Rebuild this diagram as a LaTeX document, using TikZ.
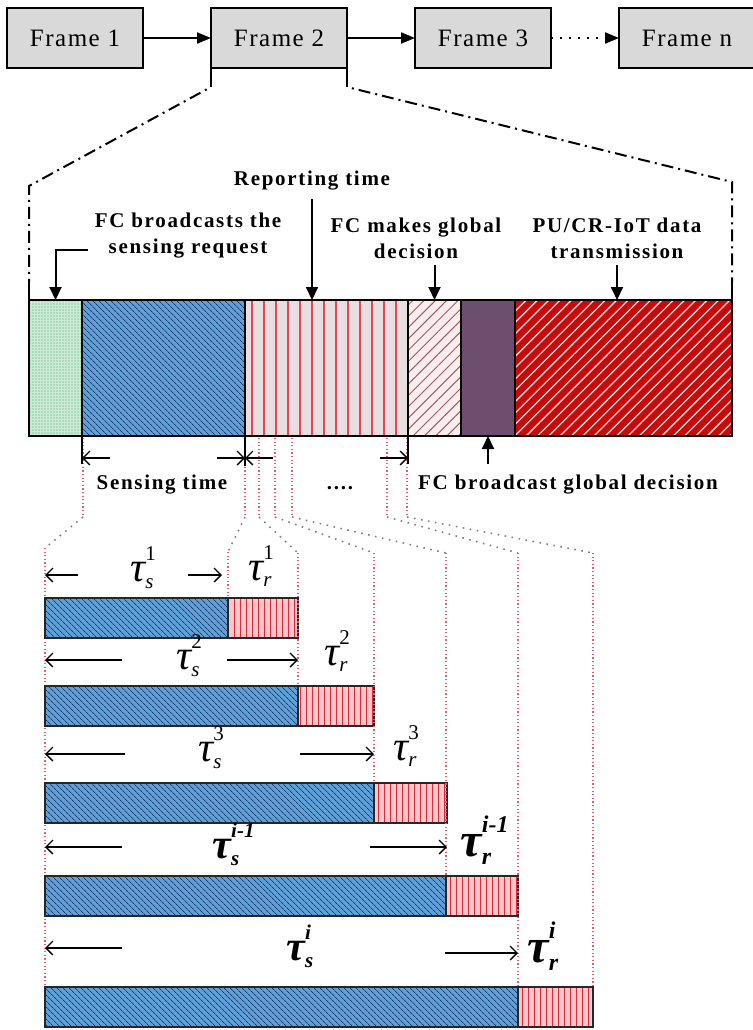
\documentclass[tikz,border=0pt]{standalone}
\usepackage{fontspec}
\setmainfont{Liberation Serif}
\usetikzlibrary{arrows.meta,patterns.meta}
\definecolor{framefill}{RGB}{217,217,217}
\definecolor{greenfill}{RGB}{205,235,215}
\definecolor{greendot}{RGB}{60,165,110}
\definecolor{bluefill}{RGB}{95,160,215}
\definecolor{bluehatch}{RGB}{25,55,105}
\definecolor{repfill}{RGB}{232,222,224}
\definecolor{repline}{RGB}{228,70,90}
\definecolor{gdecfill}{RGB}{252,238,238}
\definecolor{gdecline}{RGB}{165,90,90}
\definecolor{purp}{RGB}{110,78,110}
\definecolor{datafill}{RGB}{200,10,10}
\definecolor{pinkfill}{RGB}{250,200,200}
\definecolor{pinkline}{RGB}{220,40,60}
\definecolor{dotred}{RGB}{230,90,110}
\newcommand{\lblfont}{\fontsize{21}{26}\selectfont\bfseries\addfontfeatures{LetterSpace=8}}
\newcommand{\frmfont}{\fontsize{25}{30}\selectfont\addfontfeatures{LetterSpace=6}}
\newcommand{\taufont}{\fontsize{42}{48}\selectfont\itshape}
\newcommand{\btaufont}{\fontsize{48}{54}\selectfont\bfseries\itshape}
\newcommand{\ttau}[2]{τ\rlap{\raisebox{0.5em}{\scalebox{0.5}{#2}}}\raisebox{-0.16em}{\scalebox{0.5}{#1}}}
\begin{document}
\begin{tikzpicture}[x=1pt,y=-1pt,
  frm/.style={draw, line width=2.2pt, fill=framefill, minimum width=136pt, minimum height=60pt, inner sep=0pt, outer sep=0pt, font=\frmfont, anchor=north west},
  seg/.style={draw=black, line width=1.8pt, minimum height=136pt, inner sep=0pt, outer sep=0pt, anchor=north west},
  greenseg/.style={preaction={fill=greenfill}, pattern={Dots[distance=3pt,radius=0.6pt]}, pattern color=greendot},
  blueseg/.style={preaction={fill=bluefill}, pattern={Lines[angle=-45,distance=4pt,line width=0.8pt]}, pattern color=bluehatch},
  repseg/.style={preaction={fill=repfill}, pattern={Lines[angle=90,distance=12pt,line width=1.5pt]}, pattern color=repline},
  gdecseg/.style={preaction={fill=gdecfill}, pattern={Lines[angle=45,distance=8pt,line width=1pt]}, pattern color=gdecline},
  dataseg/.style={preaction={fill=datafill}, pattern={Lines[angle=45,distance=8pt,line width=1.3pt]}, pattern color=white!85!red},
  bb/.style={draw=black!85, line width=1.6pt, minimum height=40pt, inner sep=0pt, outer sep=0pt, anchor=north west, preaction={fill=bluefill}, pattern={Lines[angle=-45,distance=4pt,line width=0.7pt]}, pattern color=bluehatch},
  br/.style={draw=black!85, line width=1.6pt, minimum height=40pt, inner sep=0pt, outer sep=0pt, anchor=north west, preaction={fill=pinkfill}, pattern={Lines[angle=90,distance=6pt,line width=1pt]}, pattern color=pinkline},
  lbl/.style={font=\lblfont, align=center, inner sep=0pt},
  farr/.style={line width=2pt, -{Triangle[length=14pt,width=11pt]}},
  varr/.style={line width=2pt, -{Triangle[length=13pt,width=12pt]}},
  ddash/.style={line width=2pt, dash pattern=on 12pt off 5pt on 2pt off 5pt, dash phase=12pt},
  dim/.style={line width=1.3pt, -{Straight Barb[length=7pt,width=14pt]}},
  tickln/.style={line width=1.8pt},
  vdot/.style={dotred, line width=1.2pt, dash pattern=on 1.2pt off 2.4pt},
  gdot/.style={gray, line width=1.6pt, dash pattern=on 1.6pt off 5.5pt},
  tau/.style={font=\taufont, inner sep=0pt},
  btau/.style={font=\btaufont, inner sep=0pt}
]
\useasboundingbox (0,0) rectangle (752,1030);

% ---------- frames ----------
\node[frm] (f1) at (7,8) {Frame 1};
\node[frm] (f2) at (211,8) {Frame 2};
\node[frm] (f3) at (415,8) {Frame 3};
\node[frm] (fn) at (619,8) {Frame n};
\draw[farr] (f1.east) -- (f2.west);
\draw[farr] (f2.east) -- (f3.west);
\draw[line width=2pt, dash pattern=on 2pt off 7pt, -{Triangle[length=14pt,width=11pt]}] (f3.east) -- (fn.west);

% ---------- middle bar ----------
\node[seg, minimum width=53pt, greenseg] (sreq) at (29,300) {};
\node[seg, minimum width=163pt, blueseg] (sens) at (82,300) {};
\node[seg, minimum width=163pt, repseg] (rep) at (245,300) {};
\node[seg, minimum width=53pt, gdecseg] (gdec) at (408,300) {};
\node[seg, minimum width=54pt, fill=purp] (bdec) at (461,300) {};
\node[seg, minimum width=217pt, dataseg] (data) at (515,300) {};

% zoom lines from Frame 2
\draw[line width=2pt] (f2.south west) -- ++(0,19) coordinate (f2l);
\draw[line width=2pt] (f2.south east) -- ++(0,19) coordinate (f2r);
\coordinate (cl) at (29,186);
\coordinate (cl2) at (29,282);
\coordinate (cr) at (732,182);
\coordinate (cr2) at (732,282);
\draw[ddash] (f2l) -- (cl) -- (cl2);
\draw[line width=2pt] (cl2) -- (sreq.north west);
\draw[ddash] (f2r) -- (cr) -- (cr2);
\draw[line width=2pt] (cr2) -- (data.north east);

% ---------- labels above ----------
\node[lbl] (lrep) at (312,181) {Reporting time};
\node[lbl] (lreq) at (188,236) {FC broadcasts the\\sensing request};
\node[lbl] (lgdec) at (416,238) {FC makes global\\decision};
\node[lbl] (ldata) at (617,238) {PU/CR-IoT data\\transmission};
\draw[varr] (lrep.south) ++(0,8) -- (lrep.south |- rep.north);
\coordinate (reqk) at (88,250);
\draw[varr] (reqk) -| (sreq.north);
\draw[varr] (gdec.north |- lgdec.south) ++(0,6) -- (gdec.north);
\draw[varr] (ldata.south) ++(0,6) -- (ldata.south |- data.north);

% ---------- below middle bar ----------
\node[lbl, anchor=base] (lsens) at (162,489) {Sensing time};
\node[lbl, anchor=base] (ldots) at (340,489) {....};
\node[lbl, anchor=base west] (lbdec) at (418,489) {FC broadcast global decision};
\draw[varr] (bdec.south |- 0,464) coordinate (bq) -- (bdec.south);

% red dotted verticals below bar
\foreach \x/\n in {83/1,245/2,259/3,275/4,292/5,387/6,407/7} {
  \coordinate (ua\n) at (\x,438);
  \coordinate (ub\n) at (\x,517);
}
\coordinate (va1) at (45,548);
\coordinate (va2) at (228,552);
\coordinate (va3) at (298,553);
\coordinate (va4) at (374,553);
\coordinate (va5) at (446,553);
\coordinate (va6) at (518,553);
\coordinate (va7) at (593,553);
\foreach \n in {1,...,7} {
  \draw[vdot] (ua\n) -- (ub\n);
  \draw[gdot] (ub\n) -- (va\n);
}

% ticks and dimension arrows
\draw[tickln] (sens.south west) -- ++(0,28);
\draw[tickln] (rep.south west) -- ++(0,30);
\draw[tickln] (gdec.south west) -- ++(0,28);
\coordinate (d1) at (110,458);
\coordinate (d2) at (217,458);
\coordinate (d3) at (273,458);
\coordinate (d4) at (380,458);
\draw[dim] (d1) -- (d1 -| sens.south west);
\draw[dim] (d2) -- (d2 -| rep.south west);
\draw[dim] (d3) -- (d3 -| rep.south west);
\draw[dim] (d4) -- (d4 -| gdec.south west);

% ---------- bottom bars ----------
\coordinate (vb1) at (45,1027);
\draw[vdot] (va1) -- (vb1);
\node[bb, minimum width=183pt] (s1) at (45,598) {};
\node[br, minimum width=70pt] (r1) at (s1.north east) {};
\node[bb, minimum width=253pt] (s2) at (45,686) {};
\node[br, minimum width=76pt] (r2) at (s2.north east) {};
\node[bb, minimum width=329pt] (s3) at (45,783) {};
\node[br, minimum width=73pt] (r3) at (s3.north east) {};
\node[bb, minimum width=401pt] (s4) at (45,876) {};
\node[br, minimum width=72pt] (r4) at (s4.north east) {};
\node[bb, minimum width=473pt] (s5) at (45,987) {};
\node[br, minimum width=75pt] (r5) at (s5.north east) {};
\draw[vdot] (va2) -- (va2 |- s1.north);
\draw[vdot] (va3) -- (va3 |- s2.north);
\draw[vdot] (va4) -- (va4 |- s3.north);
\draw[vdot] (va5) -- (va5 |- s4.north);
\draw[vdot] (va6) -- (va6 |- s5.north);
\draw[vdot] (va7) -- (va7 |- s5.north);

% row 1
\coordinate (a1l) at (78,575); \coordinate (a1r) at (188,575);
\draw[dim] (a1l) -- (a1l -| s1.west);
\draw[dim] (a1r) -- (222,575) coordinate (a1re);
\node[tau] (ts1) at (142,568) {\ttau{s}{\upshape 1}};
\node[tau] (tr1) at (260,566) {\ttau{r}{\upshape 1}};
% row 2
\coordinate (a2l) at (122,660); \coordinate (a2r) at (227,660);
\draw[dim] (a2l) -- (a2l -| s1.west);
\draw[dim] (a2r) -- (a2r -| r1.east);
\node[tau] (ts2) at (188,656) {\ttau{s}{\upshape 2}};
\node[tau] (tr2) at (336,651) {\ttau{r}{\upshape 2}};
% row 3
\coordinate (a3l) at (125,754); \coordinate (a3r) at (300,754);
\draw[dim] (a3l) -- (a3l -| s1.west);
\draw[dim] (a3r) -- (a3r -| r2.east);
\node[tau] (ts3) at (210,748) {\ttau{s}{\upshape 3}};
\node[tau] (tr3) at (405,746) {\ttau{r}{\upshape 3}};
% row 4
\coordinate (a4l) at (122,847); \coordinate (a4r) at (370,847);
\draw[dim] (a4l) -- (a4l -| s1.west);
\draw[dim] (a4r) -- (a4r -| r3.east);
\node[tau, font=\taufont\bfseries] (ts4) at (226,844) {\ttau{s}{i-1}};
\node[btau] (tr4) at (476,840) {\ttau{r}{i-1}};
% row 5
\coordinate (a5l) at (122,948); \coordinate (a5r) at (445,953);
\draw[dim] (a5l) -- (a5l -| s1.west);
\draw[dim] (a5r) -- (a5r -| r4.east);
\node[tau, font=\taufont\bfseries] (ts5) at (300,946) {\ttau{s}{i}};
\node[btau] (tr5) at (543,946) {\ttau{r}{i}};
\end{tikzpicture}
\end{document}
